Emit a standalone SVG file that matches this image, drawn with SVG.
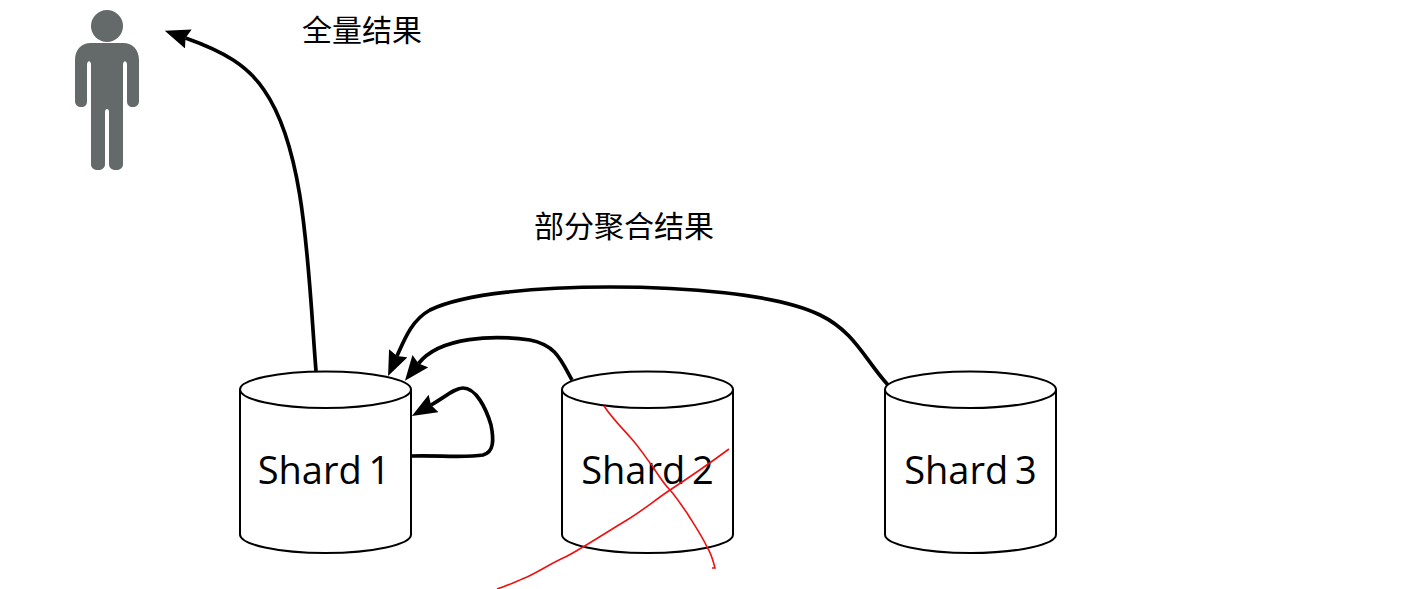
<svg xmlns="http://www.w3.org/2000/svg" width="1409" height="589" viewBox="0 0 1409 589">
<style>
.cyl{fill:#fff;stroke:#000;stroke-width:2}
.lbl{font-family:"Open Sans","Noto Sans",sans-serif;font-size:38px;word-spacing:-3px;fill:#000;text-anchor:middle}
.cjk{font-family:"Noto Sans CJK SC","Noto Sans",sans-serif;font-size:30px;fill:#000}
.edge{fill:none;stroke:#000;stroke-width:3.700}
.red{fill:none;stroke:#f01010;stroke-width:1.6}
</style>
<defs>
<marker id="arrow" markerUnits="userSpaceOnUse" markerWidth="30" markerHeight="24" refX="3" refY="10" orient="auto" viewBox="0 0 30 24">
<path d="M0 0L25 10L0 20L3 10Z" fill="#000"/>
</marker>
<path id="cyl" d="M0 18V163C0 173 38 181.500 85.500 181.500S171 173 171 163V18C171 8 133 0 85.500 0S0 8 0 18C0 28 38 36.500 85.500 36.500S171 28 171 18"/>
</defs>
<rect width="1409" height="589" fill="#fff"/>
<g id="connectors">
<path class="edge" marker-end="url(#arrow)" d="M316 371C308 270 306 150 264 90C248 66 225 52 185.500 38"/>
<path class="edge" marker-end="url(#arrow)" d="M888 385C865 360 855 332 820 315C775 293 680 287 610 287C540 287 465 293 430 310C412 320 405 338 397 356"/>
<path class="edge" marker-end="url(#arrow)" d="M572 380C560 358 555 345 530 340C495 335 440 336 418.500 363.500"/>
<path class="edge" marker-end="url(#arrow)" d="M411 456C435 455 465 458 483 455C494 452 494 440 491 425C486 408 476 388 463 388C455 388 445 397 431 405"/>
</g>
<g id="person">
<circle cx="107" cy="26" r="16" fill="#646a6a"/>
<path fill="#646a6a" d="M91 43H123C133 43 139 50 139 60V101C139 105 136 107 133 107C129 107 127 105 127 101V65C127 60 123 60 123 65V164C123 168 120 170 116 170C112 170 109 168 109 164V112C109 108 105 108 105 112V164C105 168 102 170 98 170C94 170 91 168 91 164V65C91 60 87 60 87 65V101C87 105 85 107 81 107C78 107 75 105 75 101V60C75 50 81 43 91 43Z"/>
</g>
<g id="shard1">
<use href="#cyl" x="240" y="371.500" class="cyl"/>
<text class="lbl" x="324" y="484">Shard 1</text>
</g>
<g id="shard2">
<use href="#cyl" x="562" y="371.500" class="cyl"/>
<text class="lbl" x="647.500" y="484">Shard 2</text>
</g>
<g id="shard3">
<use href="#cyl" x="885" y="371.500" class="cyl"/>
<text class="lbl" x="970.500" y="484">Shard 3</text>
</g>
<g id="label-full"><text class="cjk" x="302" y="41">全量结果</text></g>
<g id="label-partial"><text class="cjk" x="534" y="237">部分聚合结果</text></g>
<g id="annotation">
<path class="red" d="M604 406C612 418 622 428 630 437C640 448 646 458 653 467C660 478 664 484 670 490C677 498 682 506 687 513C695 526 702 536 707 547C711 553 713 560 715 568H712"/>
<path class="red" d="M729 449C710 463 690 477 670 490C655 500 642 511 627 520C612 529 598 538 583 547C576 551 570 555 563 558C550 564 540 571 527 577C517 581 507 586 497 589"/>
</g>
</svg>
